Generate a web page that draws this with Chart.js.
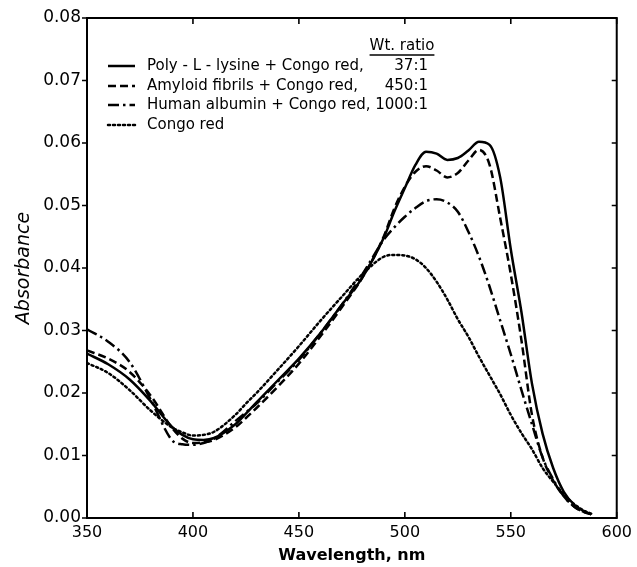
<!DOCTYPE html>
<html><head><meta charset="utf-8">
<script src="https://cdn.jsdelivr.net/npm/chart.js@4/dist/chart.umd.min.js"></script>
<style>html,body{margin:0;padding:0;background:#fff}#wrap{width:637px;height:567px;position:relative}</style>
</head><body><div id="wrap"><canvas id="c" width="637" height="567"></canvas></div>
<script>
// ---- data ----
const wavelengths   = [350,360,370,380,390,395,400,405,410,420,425,430,440,450,460,470,480,490,495,500,505,510,515,520,525,530,535,540,545,550,555,560,565,570,575,580,585,588];
const polyLysine    = [0.0263,0.0246,0.0222,0.0187,0.0146,0.0133,0.0126,0.0125,0.0128,0.0150,0.0167,0.0185,0.0220,0.0255,0.0295,0.0340,0.0385,0.0448,0.0490,0.0528,0.0565,0.0586,0.0583,0.0573,0.0576,0.0588,0.0602,0.0597,0.0545,0.0430,0.0330,0.0215,0.0135,0.0080,0.0042,0.0021,0.0010,0.0006];
const amyloidFibrils= [0.0268,0.0255,0.0234,0.0196,0.0145,0.0127,0.0120,0.0121,0.0125,0.0145,0.0160,0.0176,0.0210,0.0247,0.0290,0.0336,0.0385,0.0450,0.0495,0.0530,0.0554,0.0563,0.0556,0.0545,0.0552,0.0572,0.0589,0.0565,0.0480,0.0390,0.0285,0.0165,0.0097,0.0060,0.0035,0.0018,0.0009,0.0006];
const humanAlbumin  = [0.0302,0.0282,0.0250,0.0190,0.0125,0.0118,0.0117,0.0120,0.0127,0.0155,0.0169,0.0183,0.0218,0.0253,0.0295,0.0340,0.0390,0.0445,0.0465,0.0482,0.0496,0.0507,0.0510,0.0505,0.0490,0.0458,0.0418,0.0370,0.0316,0.0262,0.0205,0.0150,0.0097,0.0062,0.0035,0.0018,0.0009,0.0006];
const congoRed      = [0.0248,0.0232,0.0205,0.0172,0.0145,0.0137,0.0132,0.0133,0.0138,0.0165,0.0183,0.0200,0.0237,0.0275,0.0315,0.0353,0.0390,0.0418,0.0421,0.0420,0.0414,0.0400,0.0378,0.0350,0.0318,0.0290,0.0258,0.0228,0.0198,0.0165,0.0136,0.0110,0.0080,0.0058,0.0038,0.0022,0.0011,0.0007];
const seriesLabels  = ["Poly - L - lysine + Congo red,","Amyloid fibrils + Congo red,","Human albumin + Congo red,","Congo red"];
const ratioLabels   = ["37:1","450:1","1000:1",""];
const ratioHeader   = "Wt. ratio";
const xTicks        = [350,400,450,500,550,600];
const yTicks        = [0,0.01,0.02,0.03,0.04,0.05,0.06,0.07,0.08];

// ---- styles ----
const dashes = [[], [8,4], [11,4,2.5,4], [2,3]];
const FONT = '"DejaVu Sans", sans-serif';
const series = [polyLysine, amyloidFibrils, humanAlbumin, congoRed];

const datasets = series.map((vals,i)=>({
  label: seriesLabels[i],
  data: wavelengths.map((w,j)=>({x:w,y:vals[j]})),
  borderColor:'#000', borderWidth: 2.5, borderDash: dashes[i],
  pointRadius:0, fill:false, cubicInterpolationMode:'monotone', borderCapStyle: i===3?'round':'butt'
}));

const framePlugin = {
  id:'frame',
  afterDraw(chart){
    const ctx=chart.ctx, a=chart.chartArea, xs=chart.scales.x, ys=chart.scales.y;
    ctx.save();
    ctx.strokeStyle='#000'; ctx.lineWidth=2; ctx.setLineDash([]);
    ctx.strokeRect(a.left, a.top, a.right-a.left, a.bottom-a.top);
    ctx.lineWidth=1.6;
    ctx.beginPath();
    xTicks.forEach(v=>{const p=xs.getPixelForValue(v);
      ctx.moveTo(p,a.bottom); ctx.lineTo(p,a.bottom-6);
      ctx.moveTo(p,a.top); ctx.lineTo(p,a.top+6);});
    yTicks.forEach(v=>{const p=ys.getPixelForValue(v);
      ctx.moveTo(a.left-5,p); ctx.lineTo(a.left,p);
      ctx.moveTo(a.right,p); ctx.lineTo(a.right-5,p);});
    ctx.stroke();

    // legend
    const x0=a.left+21, x1=a.left+48, tx=a.left+60, rx=a.left+341;
    const rows=[a.top+48,a.top+68,a.top+87,a.top+107];
    ctx.fillStyle='#000'; ctx.textBaseline='middle';
    ctx.font='15px '+FONT;
    ctx.textAlign='center';
    const hx=a.left+315, hy=a.top+28;
    ctx.fillText(ratioHeader,hx,hy);
    const hw=ctx.measureText(ratioHeader).width;
    ctx.lineWidth=1.3; ctx.beginPath(); ctx.moveTo(hx-hw/2,hy+9); ctx.lineTo(hx+hw/2,hy+9); ctx.stroke();
    rows.forEach((y,i)=>{
      ctx.lineWidth=2.5; ctx.setLineDash(dashes[i]); ctx.lineCap = i===3?'round':'butt';
      ctx.beginPath(); ctx.moveTo(x0,y); ctx.lineTo(x1,y); ctx.stroke();
      ctx.setLineDash([]);
      ctx.textAlign='left'; ctx.fillText(seriesLabels[i],tx,y);
      if(ratioLabels[i]){ctx.textAlign='right'; ctx.fillText(ratioLabels[i],rx,y);}
    });
    ctx.restore();
  }
};

new Chart(document.getElementById('c'),{
  type:'line',
  data:{datasets},
  options:{
    responsive:false, animation:false, devicePixelRatio:1,
    layout:{padding:{top:18,right:19,left:0,bottom:0}},
    plugins:{legend:{display:false},tooltip:{enabled:false}},
    scales:{
      x:{type:'linear',min:350,max:600,
        afterBuildTicks(s){s.ticks=xTicks.map(v=>({value:v}));},
        afterFit(s){s.height=49;},
        grid:{display:false,drawTicks:false}, border:{display:false},
        ticks:{color:'#000',font:{family:FONT,size:16},padding:5,maxRotation:0,callback:v=>String(v)},
        title:{display:true,text:'Wavelength, nm',color:'#000',font:{family:FONT,size:16,weight:'bold'},padding:{top:0,bottom:2}}
      },
      y:{type:'linear',min:0,max:0.08,
        afterBuildTicks(s){s.ticks=yTicks.map(v=>({value:v}));},
        afterFit(s){s.width=87;},
        grid:{display:false,drawTicks:false}, border:{display:false},
        ticks:{color:'#000',font:{family:FONT,size:17},padding:6,callback:v=>Number(v).toFixed(2)},
        title:{display:true,text:'Absorbance',color:'#000',font:{family:FONT,size:19,style:'italic'},padding:{top:13,bottom:0}}
      }
    }
  },
  plugins:[framePlugin]
});
</script></body></html>
